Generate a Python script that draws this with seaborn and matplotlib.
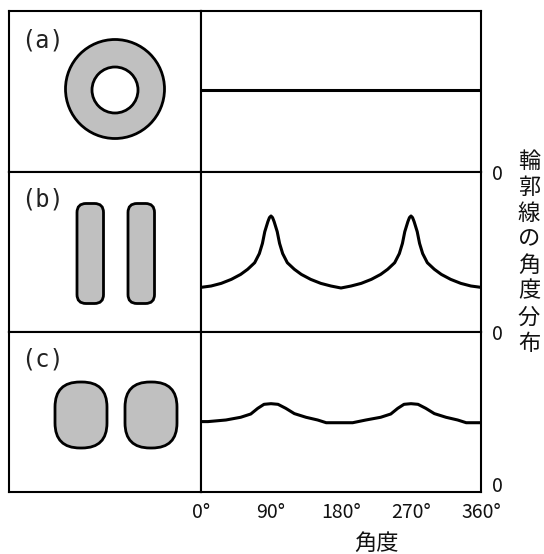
import matplotlib
matplotlib.use("Agg")
import matplotlib.pyplot as plt
from matplotlib.transforms import ScaledTranslation
import numpy as np
import pandas as pd
import seaborn as sns
from matplotlib.patches import Circle, FancyBboxPatch

# ---------------- data ----------------
panel_labels = ["(a)", "(b)", "(c)"]
xtick_values = [0, 90, 180, 270, 360]
xtick_labels = ["0°", "90°", "180°", "270°", "360°"]
x_label = "角度"
y_label = "輪郭線の角度分布"
zero_label = "0"

angles_a = [0, 360]
dist_a = [0.51, 0.51]

angles_b = [0, 13, 26, 39, 51, 60, 69, 75, 79, 82, 86, 88, 90, 92, 94, 98, 101, 105, 111,
            120, 129, 141, 154, 167, 180,
            193, 206, 219, 231, 240, 249, 255, 259, 262, 266, 268, 270, 272, 274, 278, 281,
            285, 291, 300, 309, 321, 334, 347, 360]
dist_b = [0.279, 0.2875, 0.304, 0.329, 0.36, 0.392, 0.433, 0.49, 0.554, 0.627, 0.69, 0.715, 0.725,
          0.715, 0.69, 0.627, 0.554, 0.49, 0.433, 0.392, 0.36, 0.329, 0.304, 0.2875, 0.275,
          0.2875, 0.304, 0.329, 0.36, 0.392, 0.433, 0.49, 0.554, 0.627, 0.69, 0.715, 0.725,
          0.715, 0.69, 0.627, 0.554, 0.49, 0.433, 0.392, 0.36, 0.329, 0.304, 0.2875, 0.279]

angles_c = [0, 9, 32, 51, 64, 73, 81, 90, 99, 109, 120, 135, 150, 161, 180,
            195, 212, 231, 244, 253, 261, 270, 279, 289, 300, 315, 330, 341, 360]
dist_c = [0.44, 0.44, 0.45, 0.467, 0.4875, 0.523, 0.548, 0.552, 0.548, 0.523, 0.49, 0.467, 0.45, 0.433, 0.433,
          0.433, 0.45, 0.467, 0.4875, 0.523, 0.548, 0.552, 0.548, 0.523, 0.49, 0.467, 0.45, 0.433, 0.433]

# ---------------- style ----------------
sns.set_style("white")
plt.rcParams['font.family'] = ['Noto Sans CJK JP', 'DejaVu Sans']

W, H = 544, 554
fig = plt.figure(figsize=(W / 100, H / 100), dpi=100)

x_left, x_mid, x_right = 9, 201, 481
row_edges = [10.5, 172, 332, 492]
SPINE_LW = 1.5
GRAY = "#c0c0c0"


def rect(x0, x1, y0, y1):
    return [x0 / W, 1 - y1 / H, (x1 - x0) / W, (y1 - y0) / H]


series = [(angles_a, dist_a), (angles_b, dist_b), (angles_c, dist_c)]
label_dy = [30, 27, 28]

for i in range(3):
    y0, y1 = row_edges[i], row_edges[i + 1]
    # left illustration panel (pixel coordinates)
    axl = fig.add_axes(rect(x_left, x_mid, y0, y1))
    axl.set_xlim(x_left, x_mid)
    axl.set_ylim(y1, y0)
    axl.set_xticks([])
    axl.set_yticks([])
    for s in axl.spines.values():
        s.set_linewidth(SPINE_LW)
        s.set_color("black")
    axl.text(42, y0 + label_dy[i], panel_labels[i],
             family="DejaVu Sans Mono", fontsize=17, ha="center", va="center", color="#222222")

    if i == 0:
        axl.add_patch(Circle((115, 89), 49.5, facecolor=GRAY, edgecolor="black", lw=2))
        axl.add_patch(Circle((115, 90), 23, facecolor="white", edgecolor="black", lw=2))
    elif i == 1:
        for xs in (77, 128):
            axl.add_patch(FancyBboxPatch((xs, 203.5), 26.5, 100,
                                         boxstyle="round,pad=0,rounding_size=9",
                                         facecolor=GRAY, edgecolor="black", lw=2))
    else:
        for xs in (55, 125):
            axl.add_patch(FancyBboxPatch((xs, 382), 52, 66,
                                         boxstyle="round,pad=0,rounding_size=25",
                                         facecolor=GRAY, edgecolor="black", lw=2))

    # right distribution panel
    axr = fig.add_axes(rect(x_mid, x_right, y0, y1))
    a, d = series[i]
    df = pd.DataFrame({"angle": a, "value": d})
    sns.lineplot(data=df, x="angle", y="value", ax=axr, color="black", lw=2.2)
    axr.set_xlim(0, 360)
    axr.set_ylim(0, 1)
    axr.set_xlabel("")
    axr.set_ylabel("")
    for s in axr.spines.values():
        s.set_linewidth(SPINE_LW)
        s.set_color("black")
    axr.set_xticks(xtick_values)
    if i == 2:
        axr.set_xticklabels(xtick_labels)
    else:
        axr.set_xticklabels([])
    axr.tick_params(axis="x", direction="in", length=4, width=1.2, color="black",
                    labelsize=14, pad=7, labelcolor="#111111")
    axr.yaxis.tick_right()
    axr.set_yticks([0])
    axr.set_yticklabels([zero_label])
    axr.tick_params(axis="y", length=0, pad=8, labelsize=14, labelcolor="#111111")
    if i == 2:
        for lab in axr.get_yticklabels():
            lab.set_transform(lab.get_transform() + ScaledTranslation(0, 6 / 72, fig.dpi_scale_trans))

# x label
fig.text(377 / W, 1 - 543 / H, x_label, fontsize=16, ha="center", va="center", color="#111111")

# vertical y label, one character per line
for k, ch in enumerate(y_label):
    fig.text(529 / W, 1 - (161 + 26 * k) / H, ch, fontsize=16,
             ha="center", va="center", color="#111111")

fig.savefig("out.png", dpi=100)
